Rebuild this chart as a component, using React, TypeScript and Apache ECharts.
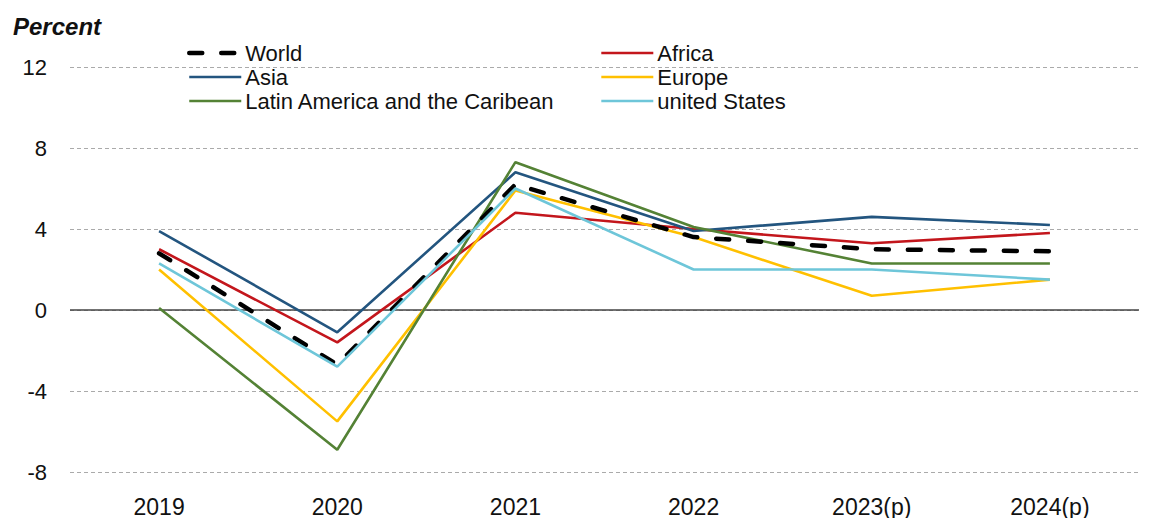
import React, { useEffect, useRef } from "react";
import * as echarts from "echarts";

const categories = ["2019", "2020", "2021", "2022", "2023(p)", "2024(p)"];
const world = [2.8, -2.7, 6.2, 3.6, 3.0, 2.9];
const africa = [3.0, -1.6, 4.8, 4.0, 3.3, 3.8];
const asia = [3.9, -1.1, 6.8, 3.9, 4.6, 4.2];
const europe = [2.0, -5.5, 5.9, 3.6, 0.7, 1.5];
const latam = [0.1, -6.9, 7.3, 4.1, 2.3, 2.3];
const usa = [2.3, -2.8, 6.0, 2.0, 2.0, 1.5];
const yTicks = { min: -8, max: 12, interval: 4 };

const FONT = "'Liberation Sans', Arial, Helvetica, sans-serif";

export default function App() {
  const ref = useRef<HTMLDivElement>(null);
  useEffect(() => {
    if (!ref.current) return;
    const chart = echarts.init(ref.current, undefined, { renderer: "svg" });
    const mk = (name: string, data: number[], color: string, width: number, type: any = "solid", z = 2) => ({
      name,
      type: "line",
      data,
      symbol: "none",
      showSymbol: false,
      z,
      lineStyle: { color, width, type, cap: type === "solid" ? "butt" : "round" },
      itemStyle: { color },
    });
    const legendCommon = {
      orient: "vertical",
      itemWidth: 52,
      itemHeight: 14,
      itemGap: 2,
      textStyle: { fontFamily: FONT, fontSize: 22, color: "#111", padding: [0, 0, 0, -1] },
      itemStyle: { opacity: 0, borderWidth: 0 },
      lineStyle: { width: "inherit", type: "inherit" },
      selectedMode: false,
    };
    chart.setOption({
      animation: false,
      grid: { left: 70, right: 11, top: 67, bottom: 46 },
      graphic: [
        {
          type: "text",
          left: 13,
          top: 14,
          style: {
            text: "Percent",
            font: `italic bold 24px ${FONT}`,
            fill: "#111",
          },
        },
      ],
      legend: [
        { ...legendCommon, left: 182, top: 37, data: ["World", "Asia", "Latin America and the Caribean"] },
        { ...legendCommon, left: 595, top: 37, data: ["Africa", "Europe", "united States"] },
      ],
      xAxis: {
        type: "category",
        data: categories,
        boundaryGap: true,
        axisLine: { show: false },
        axisTick: { show: false },
        axisLabel: { fontFamily: FONT, fontSize: 23, color: "#111", margin: 23 },
      },
      yAxis: {
        type: "value",
        min: yTicks.min,
        max: yTicks.max,
        interval: yTicks.interval,
        axisLine: { show: false },
        axisTick: { show: false },
        axisLabel: { fontFamily: FONT, fontSize: 22, color: "#111", margin: 23 },
        splitLine: { lineStyle: { color: "#aaa", type: [4, 3], width: 1 } },
      },
      series: [
        {
          ...mk("World", world, "#000000", 4.5, [13, 19], 5),
          markLine: {
            silent: true,
            symbol: "none",
            label: { show: false },
            lineStyle: { color: "#444", type: "solid", width: 1.5 },
            data: [{ yAxis: 0 }],
            z: 1,
          },
        },
        mk("Africa", africa, "#C3161C", 2.6),
        mk("Asia", asia, "#23557F", 2.6),
        mk("Europe", europe, "#FFC000", 2.6),
        mk("Latin America and the Caribean", latam, "#548235", 2.6),
        mk("united States", usa, "#6EC6D9", 2.6, "solid", 6),
      ],
    });
    return () => chart.dispose();
  }, []);
  return (
    <div
      ref={ref}
      style={{ position: "fixed", left: 0, top: 0, width: 1150, height: 518, background: "#fff" }}
    />
  );
}
